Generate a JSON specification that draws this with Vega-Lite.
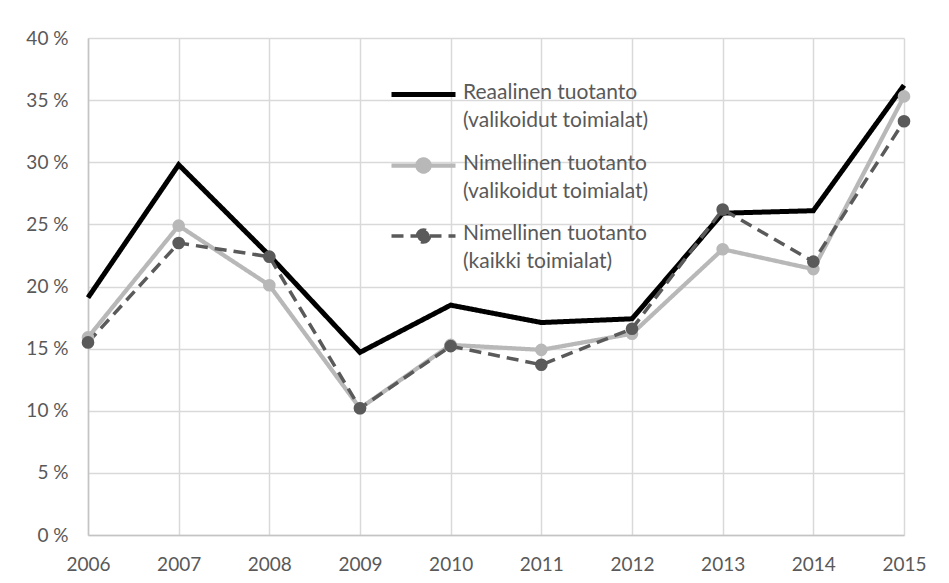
{
  "$schema": "https://vega.github.io/schema/vega-lite/v6.json",
  "width": 816,
  "height": 497,
  "autosize": {"type": "none"},
  "padding": {"left": 88, "top": 38, "right": 45, "bottom": 48},
  "background": "white",
  "config": {
    "font": "Lato",
    "view": {"stroke": null},
    "axis": {
      "labelFont": "Lato",
      "labelFontSize": 19,
      "labelColor": "#595959",
      "gridColor": "#d9d9d9",
      "gridWidth": 1.5,
      "domainColor": "#c4c4c4",
      "domainWidth": 1.5,
      "ticks": false,
      "title": null
    }
  },
  "data": {
    "values": [
      {"year": "2006", "series": "R", "value": 19.1},
      {"year": "2007", "series": "R", "value": 29.8},
      {"year": "2008", "series": "R", "value": 22.5},
      {"year": "2009", "series": "R", "value": 14.7},
      {"year": "2010", "series": "R", "value": 18.5},
      {"year": "2011", "series": "R", "value": 17.1},
      {"year": "2012", "series": "R", "value": 17.4},
      {"year": "2013", "series": "R", "value": 25.9},
      {"year": "2014", "series": "R", "value": 26.1},
      {"year": "2015", "series": "R", "value": 36.2},
      {"year": "2006", "series": "NV", "value": 15.9},
      {"year": "2007", "series": "NV", "value": 24.9},
      {"year": "2008", "series": "NV", "value": 20.1},
      {"year": "2009", "series": "NV", "value": 10.2},
      {"year": "2010", "series": "NV", "value": 15.3},
      {"year": "2011", "series": "NV", "value": 14.9},
      {"year": "2012", "series": "NV", "value": 16.2},
      {"year": "2013", "series": "NV", "value": 23.0},
      {"year": "2014", "series": "NV", "value": 21.4},
      {"year": "2015", "series": "NV", "value": 35.3},
      {"year": "2006", "series": "NK", "value": 15.5},
      {"year": "2007", "series": "NK", "value": 23.5},
      {"year": "2008", "series": "NK", "value": 22.4},
      {"year": "2009", "series": "NK", "value": 10.2},
      {"year": "2010", "series": "NK", "value": 15.2},
      {"year": "2011", "series": "NK", "value": 13.7},
      {"year": "2012", "series": "NK", "value": 16.6},
      {"year": "2013", "series": "NK", "value": 26.2},
      {"year": "2014", "series": "NK", "value": 22.0},
      {"year": "2015", "series": "NK", "value": 33.3}
    ]
  },
  "encoding": {
    "x": {
      "field": "year",
      "type": "ordinal",
      "scale": {"type": "point", "padding": 0},
      "axis": {"labelAngle": 0, "labelPadding": 20, "grid": true}
    },
    "y": {
      "field": "value",
      "type": "quantitative",
      "scale": {"domain": [0, 40]},
      "axis": {"values": [0, 5, 10, 15, 20, 25, 30, 35, 40], "labelExpr": "datum.value + ' %'", "labelPadding": 20, "grid": true}
    }
  },
  "layer": [
    {
      "mark": {"type": "line", "strokeJoin": "miter"},
      "encoding": {
        "color": {
          "field": "series",
          "type": "nominal",
          "scale": {"domain": ["R", "NV", "NK"], "range": ["#000000", "#b8b8b8", "#5a5a5a"]},
          "legend": {
            "title": null,
            "orient": "none",
            "legendX": 301,
            "legendY": 22,
            "padding": 0,
            "symbolSize": 4096,
            "symbolType": "stroke",
            "labelFont": "Lato",
            "labelFontSize": 21,
            "labelColor": "#595959",
            "labelOffset": 5,
            "labelLimit": 400,
            "labelBaseline": "top",
            "rowPadding": -10,
            "labelExpr": "datum.label == 'R' ? ['Reaalinen tuotanto', '(valikoidut toimialat)'] : datum.label == 'NV' ? ['Nimellinen tuotanto', '(valikoidut toimialat)'] : ['Nimellinen tuotanto', '(kaikki toimialat)']",
            "encode": {
              "labels": {"update": {"lineHeight": {"value": 28}, "dy": {"value": -13}}},
              "symbols": {
                "update": {
                  "shape": {"signal": "datum.value == 'R' ? 'stroke' : 'M-1,0H1M0.19,0A0.19,0.19 0 1,1 -0.19,0A0.19,0.19 0 1,1 0.19,0Z'"},
                  "stroke": {"signal": "datum.value == 'R' ? '#000000' : datum.value == 'NV' ? '#b8b8b8' : '#5a5a5a'"},
                  "fill": {"signal": "datum.value == 'R' ? 'transparent' : datum.value == 'NV' ? '#b8b8b8' : '#5a5a5a'"},
                  "fillOpacity": {"value": 1},
                  "strokeWidth": {"signal": "datum.value == 'R' ? 5 : 3.5"},
                  "strokeDash": {"signal": "datum.value == 'NK' ? [12, 7] : [1, 0]"}
                }
              }
            }
          }
        },
        "strokeDash": {
          "field": "series",
          "type": "nominal",
          "scale": {"domain": ["R", "NV", "NK"], "range": [[1, 0], [1, 0], [12, 7]]},
          "legend": null
        },
        "strokeWidth": {
          "field": "series",
          "type": "nominal",
          "scale": {"domain": ["R", "NV", "NK"], "range": [5, 3.5, 3.5]},
          "legend": null
        }
      }
    },
    {
      "transform": [{"filter": "datum.series != 'R'"}],
      "mark": {"type": "circle", "size": 160, "opacity": 1},
      "encoding": {
        "color": {"field": "series", "type": "nominal"}
      }
    }
  ]
}
